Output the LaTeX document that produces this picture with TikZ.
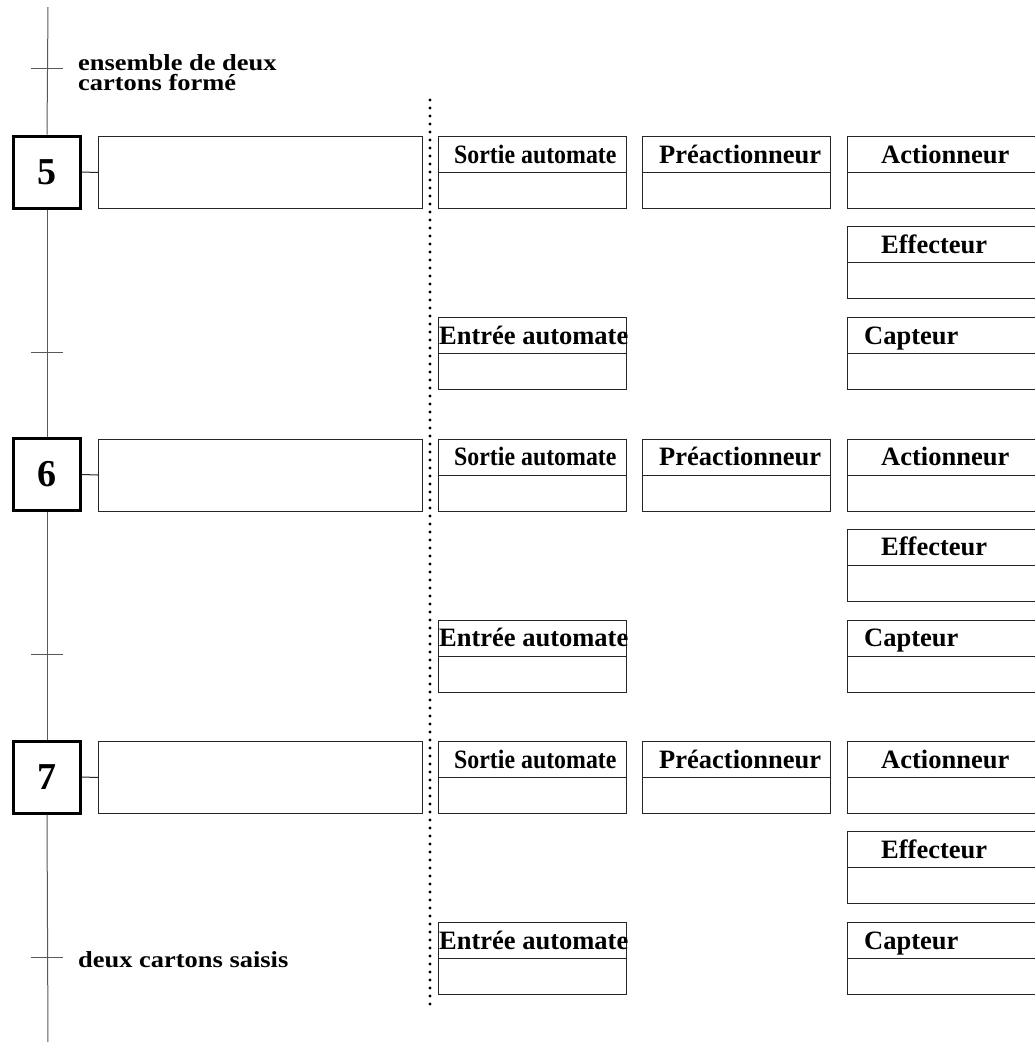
\documentclass[tikz,border=0pt]{standalone}
\usepackage{fontspec}
\setmainfont{Liberation Serif}
\begin{document}
\begin{tikzpicture}[x=1pt,y=-1pt,
  thin line/.style={draw=black!85, line width=1pt},
  spine/.style={draw=black!65, line width=1pt},
  stepbox/.style={draw=black, line width=3pt, minimum width=67pt, minimum height=72pt,
    inner sep=0pt, font=\fontsize{38}{40}\selectfont\bfseries},
  actbox/.style={thin line, minimum width=324pt, minimum height=72pt, inner sep=0pt, anchor=north west},
  cellbox/.style={thin line, minimum width=188pt, minimum height=72pt, inner sep=0pt, anchor=north west},
  celltxt/.style={font=\fontsize{26.5}{26}\selectfont\bfseries, inner sep=0pt, anchor=base west},
  condtxt/.style={font=\fontsize{23}{20}\selectfont\bfseries, inner sep=0pt, anchor=base west},
  dotline/.style={draw=black, line width=3.2pt, line cap=round, dash pattern=on 0pt off 8pt}
]
\useasboundingbox (0,0) rectangle (1035,1042);

% spine end points
\coordinate (top) at (48,7);
\coordinate (bottom) at (48,1042);

% initial transition and its receptivity
\draw[spine] (31,68) -- (63,68);
\node[condtxt] (c0a) at (78,70) {\scalebox{1.15}[1]{ensemble de deux}};
\node[condtxt] (c0b) at (78,90.5) {\scalebox{1.15}[1]{cartons formé}};

% one block per step: step box, action box, and the analysis cells
\foreach \n/\T in {5/136, 6/438.5, 7/741}{
  \node[stepbox] (s\n) at (47,\T+36) {\n};
  \node[actbox] (a\n) at (98,\T) {};
  \draw[thin line] (s\n.east) -- (a\n.west);

  % row 1
  \node[cellbox] (so\n) at (438,\T) {};
  \node[cellbox] (pr\n) at (642,\T) {};
  \node[cellbox] (ac\n) at (847,\T) {};
  % row 2
  \node[cellbox] (ef\n) at (847,\T+90) {};
  % row 3
  \node[cellbox] (en\n) at (438,\T+181) {};
  \node[cellbox] (ca\n) at (847,\T+181) {};

  \foreach \b in {so,pr,ac,ef,en,ca}{
    \draw[thin line] (\b\n.west) -- (\b\n.east);
  }

  \node[celltxt] at (454,\T+27) {\scalebox{0.9}[1]{Sortie automate}};
  \node[celltxt] at (659,\T+27) {Préactionneur};
  \node[celltxt] at (881,\T+27) {Actionneur};
  \node[celltxt] at (881,\T+117) {Effecteur};
  \node[celltxt] at (439,\T+208) {Entrée automate};
  \node[celltxt] at (864,\T+208) {Capteur};

  % transition below the step
  \draw[spine] (31,\T+216) -- (63,\T+216);
}

\node[condtxt] (c3) at (78,967) {\scalebox{1.15}[1]{deux cartons saisis}};

% vertical spine linking steps
\draw[spine] (top) -- (s5.north);
\draw[spine] (s5.south) -- (s6.north);
\draw[spine] (s6.south) -- (s7.north);
\draw[spine] (s7.south) -- (bottom);

% separator between command part and analysis part
\coordinate (d1) at (430,100);
\coordinate (d2) at (430,1008);
\draw[dotline] (d1) -- (d2);
\end{tikzpicture}
\end{document}
